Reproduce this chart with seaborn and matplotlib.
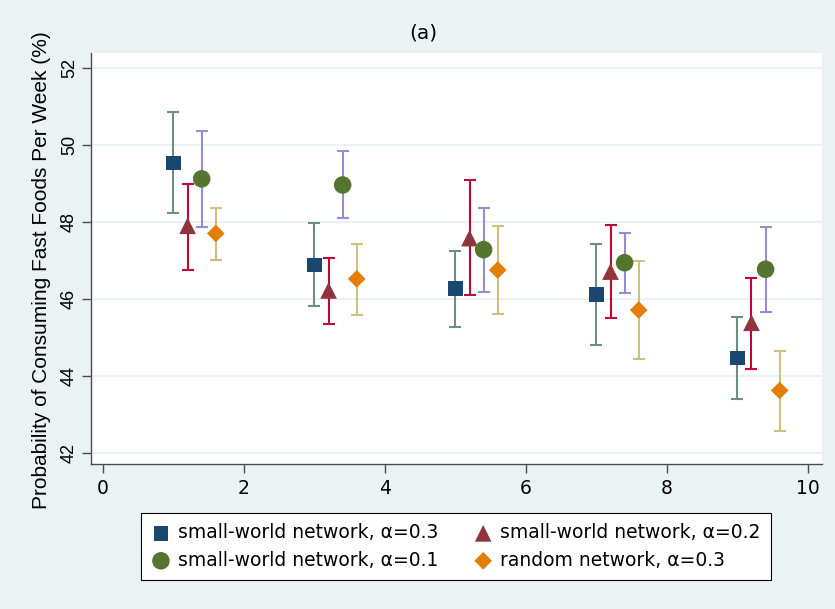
import numpy as np
import pandas as pd
import matplotlib
matplotlib.use("Agg")
import matplotlib.pyplot as plt
import seaborn as sns

# ---- data ----
series_names = ["small-world network, \u03b1=0.3", "small-world network, \u03b1=0.2",
                "small-world network, \u03b1=0.1", "random network, \u03b1=0.3"]
x_sw03 = [1.0, 3.0, 5.0, 7.0, 9.0]
x_sw02 = [1.2, 3.2, 5.2, 7.2, 9.2]
x_sw01 = [1.4, 3.4, 5.4, 7.4, 9.4]
x_rn03 = [1.6, 3.6, 5.6, 7.6, 9.6]

y_sw03 = [49.53, 46.88, 46.27, 46.12, 44.46]
lo_sw03 = [48.22, 45.82, 45.27, 44.81, 43.40]
hi_sw03 = [50.85, 47.97, 47.25, 47.42, 45.52]

y_sw02 = [47.90, 46.22, 47.58, 46.71, 45.38]
lo_sw02 = [46.76, 45.36, 46.09, 45.50, 44.19]
hi_sw02 = [48.99, 47.07, 49.08, 47.91, 46.54]

y_sw01 = [49.12, 48.96, 47.28, 46.94, 46.77]
lo_sw01 = [47.87, 48.09, 46.18, 46.15, 45.67]
hi_sw01 = [50.35, 49.84, 48.36, 47.72, 47.87]

y_rn03 = [47.70, 46.52, 46.75, 45.71, 43.62]
lo_rn03 = [47.02, 45.59, 45.61, 44.45, 42.58]
hi_rn03 = [48.37, 47.43, 47.89, 46.98, 44.65]

x_ticks = [0, 2, 4, 6, 8, 10]
y_ticks = [42, 44, 46, 48, 50, 52]
title_text = "(a)"
ylabel_text = "Probability of Consuming Fast Foods Per Week (%)"

frames = []
for name, xs, ys, lo, hi in zip(series_names,
                                [x_sw03, x_sw02, x_sw01, x_rn03],
                                [y_sw03, y_sw02, y_sw01, y_rn03],
                                [lo_sw03, lo_sw02, lo_sw01, lo_rn03],
                                [hi_sw03, hi_sw02, hi_sw01, hi_rn03]):
    frames.append(pd.DataFrame({"series": name, "x": xs, "y": ys, "lo": lo, "hi": hi}))
df = pd.concat(frames, ignore_index=True)

# ---- style ----
sns.set_theme(style="white")
plt.rcParams["font.family"] = ["DejaVu Sans"]
plt.rcParams["text.color"] = "black"
plt.rcParams["axes.labelcolor"] = "black"
plt.rcParams["xtick.color"] = "black"
plt.rcParams["ytick.color"] = "black"

bg = "#eaf2f3"
marker_colors = ["#1a476f", "#90353b", "#55752f", "#e37e00"]
bar_colors = ["#6e8e84", "#c10534", "#938dd2", "#cac27e"]
markers = ["s", "^", "o", "D"]
sizes = [110, 144, 160, 81]

fig = plt.figure(figsize=(8.35, 6.09), dpi=100, facecolor=bg)
ax = fig.add_axes([0.1090, 0.2381, 0.8754, 0.6749])
ax.set_facecolor("white")

for i, name in enumerate(series_names):
    d = df[df["series"] == name]
    ax.errorbar(d["x"], d["y"], yerr=[d["y"] - d["lo"], d["hi"] - d["y"]],
                fmt="none", ecolor=bar_colors[i], elinewidth=1.5,
                capsize=4, capthick=1.5, zorder=2)
for i, name in enumerate(series_names):
    d = df[df["series"] == name]
    sns.scatterplot(data=d, x="x", y="y", ax=ax, marker=markers[i],
                    color=marker_colors[i], s=sizes[i], edgecolor="none",
                    linewidth=0, zorder=3, label=name)

ax.set_xlim(-0.17, 10.2)
ax.set_ylim(41.71, 52.39)
ax.set_xticks(x_ticks)
ax.set_yticks(y_ticks)
ax.set_xticklabels([str(t) for t in x_ticks], fontsize=13.5, color="black")
ax.set_yticklabels([str(t) for t in y_ticks], fontsize=13, rotation=90, va="center",
                   family="Liberation Sans", color="black")
ax.grid(axis="y", color=bg, linewidth=1.5)
ax.grid(axis="x", visible=False)
for s in ["top", "right"]:
    ax.spines[s].set_visible(False)
for s in ["left", "bottom"]:
    ax.spines[s].set_color("#4d4d4d")
    ax.spines[s].set_linewidth(1.0)
ax.tick_params(axis="both", direction="out", length=6.5, width=1, color="#4d4d4d",
               labelcolor="black", left=True, bottom=True)
ax.tick_params(axis="x", pad=4)
ax.tick_params(axis="y", pad=3)
ax.set_xlabel("")
ax.set_ylabel("")
fig.text(42 / 835, 1 - 270 / 609, ylabel_text, rotation=90, ha="center", va="center",
         fontsize=15, family="Liberation Sans", color="black")
fig.text(423 / 835, 1 - 33 / 609, title_text, ha="center", va="center", fontsize=14.5,
         color="black")

handles, labels = ax.get_legend_handles_labels()
if ax.legend_:
    ax.legend_.remove()
order = [0, 2, 1, 3]
leg = fig.legend([handles[i] for i in order], [labels[i] for i in order],
                 loc="center", bbox_to_anchor=(456 / 835, 1 - 546.5 / 609), ncol=2,
                 fontsize=13.5, frameon=True, fancybox=False, edgecolor="black",
                 facecolor="white", borderpad=0.55, handletextpad=0.4,
                 columnspacing=1.9, handlelength=1.0, labelspacing=0.45,
                 borderaxespad=0, labelcolor="black")
leg.get_frame().set_linewidth(0.8)
leg.get_frame().set_alpha(1.0)

fig.savefig("out.png", dpi=100, facecolor=bg)
